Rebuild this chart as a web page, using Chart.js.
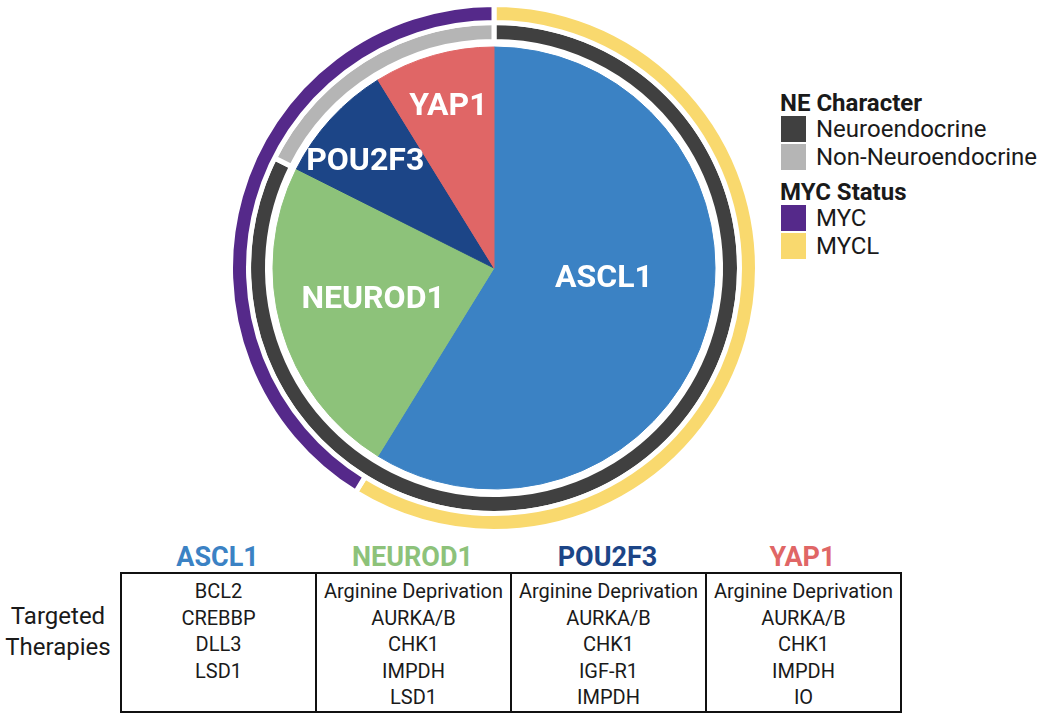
<!DOCTYPE html>
<html>
<head>
<meta charset="utf-8">
<script src="https://cdn.jsdelivr.net/npm/chart.js@4"></script>
<style>
    body { margin: 0; background: #fff; font-family: Roboto, "Noto Sans", sans-serif; color: #1a1a1a; }
    #page { position: relative; width: 1050px; height: 720px; overflow: hidden; }
    #pie { position: absolute; left: 228px; top: 2px; }
    #legend { position: absolute; left: 781px; top: 91px; }
    #legend .head { font-weight: 700; font-size: 24px; line-height: 24px; height: 24px; margin-left: -1px; }
    #legend .item { display: flex; align-items: center; height: 26px; margin-top: 1px; margin-bottom: 2px; font-size: 24px; }
    #legend .sw { width: 25px; height: 26px; margin-right: 10px; }
    #legend .group + .group { margin-top: 10px; }
    #sideLabel { position: absolute; left: 0; width: 116px; top: 601px; text-align: center; font-size: 24px; line-height: 31px; }
    #heads { position: absolute; left: 120px; top: 540px; display: flex; }
    #heads div { width: 195px; text-align: center; font-weight: 700; font-size: 27px; line-height: 34px; }
    #table { position: absolute; left: 120px; top: 572px; border-collapse: collapse; }
    #table td { border: 2px solid #111; width: 193px; height: 133px; padding: 4px 0 0 0; vertical-align: top; text-align: center; font-size: 20px; line-height: 26.6px; }
</style>
</head>
<body>
<div id="page">
    <canvas id="pie" width="532" height="532"></canvas>
    <div id="legend"></div>
    <div id="heads"></div>
    <div id="sideLabel">Targeted<br>Therapies</div>
    <table id="table"><tr id="cells"></tr></table>
</div>
<script>
// Subtype shares (inner pie), clockwise from 12 o'clock
const subtypes = ['ASCL1', 'NEUROD1', 'POU2F3', 'YAP1'];
const subtypeShare = [58.8, 23.6, 8.8, 8.8];
const subtypeColors = ['#3b82c4', '#8dc27a', '#1c4587', '#e06666'];

// NE character ring
const neLabels = ['Neuroendocrine', 'Non-Neuroendocrine'];
const neShare = [82.4, 17.6];
const neColors = ['#404040', '#b5b5b5'];

// MYC status ring (clockwise: MYCL first, then MYC)
const mycLabels = ['MYCL', 'MYC'];
const mycShare = [58.8, 41.2];
const mycColors = ['#f9d96e', '#55298a'];

// Targeted therapies per subtype
const therapies = [
    ['BCL2', 'CREBBP', 'DLL3', 'LSD1'],
    ['Arginine Deprivation', 'AURKA/B', 'CHK1', 'IMPDH', 'LSD1'],
    ['Arginine Deprivation', 'AURKA/B', 'CHK1', 'IGF-R1', 'IMPDH'],
    ['Arginine Deprivation', 'AURKA/B', 'CHK1', 'IMPDH', 'IO']
];

// slice labels drawn inside the pie
const sliceLabels = {
    id: 'sliceLabels',
    afterDatasetsDraw(chart, args, opts) {
        const meta = chart.getDatasetMeta(3);
        const ctx = chart.ctx;
        ctx.save();
        ctx.fillStyle = '#fff';
        ctx.font = '700 32px Roboto';
        ctx.textAlign = 'center';
        ctx.textBaseline = 'middle';
        meta.data.forEach((arc, i) => {
            const a = (arc.startAngle + arc.endAngle) / 2 + opts.shift[i] * Math.PI / 180;
            const r = arc.outerRadius * opts.radius[i];
            ctx.fillText(subtypes[i], arc.x + Math.cos(a) * r, arc.y + Math.sin(a) * r);
        });
        ctx.restore();
    }
};

const ringOpts = { borderColor: '#fff', borderWidth: 5, hoverOffset: 0, offset: 0 };

new Chart(document.getElementById('pie').getContext('2d'), {
    type: 'pie',
    data: {
        labels: subtypes,
        datasets: [
            { label: 'MYC Status', data: mycShare, backgroundColor: mycColors, weight: 18, ...ringOpts },
            { label: 'NE Character', data: neShare, backgroundColor: neColors, weight: 19, ...ringOpts },
            { label: 'spacer', data: [1], backgroundColor: 'rgba(0,0,0,0)', borderWidth: 0, weight: 5.5, hoverOffset: 0 },
            { label: 'Subtype', data: subtypeShare, backgroundColor: subtypeColors, borderColor: subtypeColors,
              borderWidth: 1, weight: 221, hoverOffset: 0, offset: 0 }
        ]
    },
    options: {
        responsive: false, // fixed size canvas
        maintainAspectRatio: false,
        animation: false,
        events: [],
        layout: { padding: 0 },
        plugins: {
            legend: { display: false },
            tooltip: { enabled: false },
            sliceLabels: { radius: [0.5, 0.566, 0.755, 0.755], shift: [-10, 1, -3, 0] }
        }
    },
    plugins: [sliceLabels]
});

// legend groups
const legend = document.getElementById('legend');
[['NE Character', neLabels, neColors], ['MYC Status', mycLabels.slice().reverse(), mycColors.slice().reverse()]]
    .forEach(([title, labels, colors]) => {
        const g = document.createElement('div');
        g.className = 'group';
        g.innerHTML = '<div class="head">' + title + '</div>' +
            labels.map((l, i) => '<div class="item"><span class="sw" style="background:' + colors[i] + '"></span>' + l + '</div>').join('');
        legend.appendChild(g);
    });

// therapy table
const heads = document.getElementById('heads');
const cells = document.getElementById('cells');
subtypes.forEach((s, i) => {
    const h = document.createElement('div');
    h.textContent = s;
    h.style.color = subtypeColors[i];
    heads.appendChild(h);
    const td = document.createElement('td');
    td.innerHTML = therapies[i].join('<br>');
    cells.appendChild(td);
});
</script>
</body>
</html>
